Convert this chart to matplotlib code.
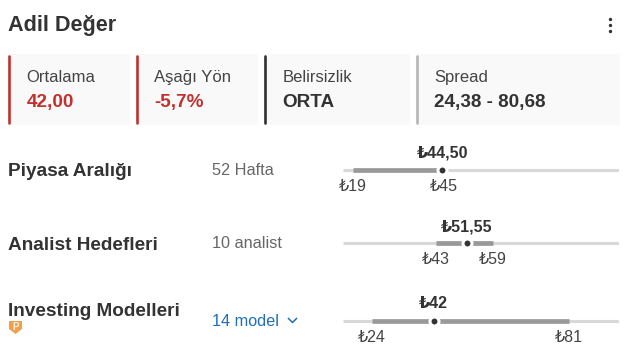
import matplotlib
matplotlib.use('Agg')
import matplotlib.pyplot as plt
from matplotlib.patches import Rectangle, Polygon

plt.rcParams['font.family'] = ['Liberation Sans', 'DejaVu Sans']

W, H = 628, 357

# kartlar
card_labels = ['Ortalama', 'Aşağı Yön', 'Belirsizlik', 'Spread']
card_values = ['42,00', '-5,7%', 'ORTA', '24,38 - 80,68']

# satirlar
row_names = ['Piyasa Aralığı', 'Analist Hedefleri', 'Investing Modelleri']
row_notes = ['52 Hafta', '10 analist', '14 model']
row_low = [19, 42.6, 24.38]
row_high = [45, 59, 80.68]
row_mid = [44.5, 51.55, 42]
mid_labels = ['₺44,50', '₺51,55', '₺42']
low_labels = ['₺19', '₺43', '₺24']
high_labels = ['₺45', '₺59', '₺81']

DARK = '#333333'
GREY = '#666666'
RED = '#c4302f'
BLUE = '#1e6fb8'

card_x = [9, 137, 265, 417]
card_w = [121, 121, 145, 203]
card_edge = [RED, RED, '#2f2f2f', '#b5b5b5']
card_color = [RED, RED, DARK, DARK]
row_y = [169.5, 243, 320.5]
text_y = [171, 245, 311]

fig = plt.figure(figsize=(W / 100, H / 100), dpi=100, facecolor='white')
ax = fig.add_axes([0, 0, 1, 1])
ax.set_xlim(0, W)
ax.set_ylim(H, 0)
ax.axis('off')

ax.text(8, 26, 'Adil Değer', fontsize=15.6, fontweight='bold', color=DARK, va='center')

# sag ustteki uc nokta
ax.scatter([610, 610, 610], [19, 25, 30.5], s=6, color=DARK, linewidths=0)

for i in range(4):
    ax.add_patch(Rectangle((card_x[i], 54), card_w[i], 71, facecolor='#f9f9f9', edgecolor='none'))
    ax.plot([card_x[i], card_x[i]], [56, 123], color=card_edge[i], lw=1.9, solid_capstyle='round')
    ax.text(card_x[i] + 17.5, 77.5, card_labels[i], fontsize=12, color='#444444', va='center')
    ax.text(card_x[i] + 17.5, 102.5, card_values[i], fontsize=13.6, fontweight='bold',
            color=card_color[i], va='center')

for i in range(3):
    ax.text(8, text_y[i], row_names[i], fontsize=13.7, fontweight='bold', color=DARK, va='center')
    color = BLUE if i == 2 else GREY
    ax.text(211.5, row_y[i] + 1 if i < 2 else 321.5, row_notes[i], fontsize=11.7, color=color, va='center')

# asagi ok
ax.plot([288.5, 292.5, 296.5], [318.5, 322.5, 318.5], color=BLUE, lw=1.1)

# P rozeti
ax.add_patch(Polygon([(9, 321), (22, 321), (22, 329), (15.5, 334), (9, 329)], closed=True,
                     facecolor='#f0a04b', edgecolor='none'))
ax.text(15.5, 326.5, 'P', fontsize=7, fontweight='bold', color='#fdf0df', ha='center', va='center')

# aralik cubuklari, x ekseni deger olarak
rx = fig.add_axes([343 / W, 0, 276 / W, 1])
rx.set_xlim(16.14, 95)
rx.set_ylim(H, 0)
rx.axis('off')
rx.patch.set_alpha(0)

for i in range(3):
    y = row_y[i]
    rx.plot([16.14, 95], [y, y], color='#d8d8d8', lw=2.2, solid_capstyle='butt')
    rx.plot([row_low[i], row_high[i]], [y, y], color='#999999', lw=3.4, solid_capstyle='butt')
    rx.scatter([row_mid[i]], [y], s=42, color='#333333', edgecolors='white', linewidths=2.2, zorder=3)
    rx.text(row_mid[i], y - 16.5, mid_labels[i], fontsize=11.6, fontweight='bold', color=DARK,
            ha='center', va='center')
    rx.text(row_low[i], y + 17, low_labels[i], fontsize=11.5, color='#444444', ha='center', va='center')
    rx.text(row_high[i], y + 17, high_labels[i], fontsize=11.5, color='#444444', ha='center', va='center')

fig.savefig('out.png', dpi=100)
